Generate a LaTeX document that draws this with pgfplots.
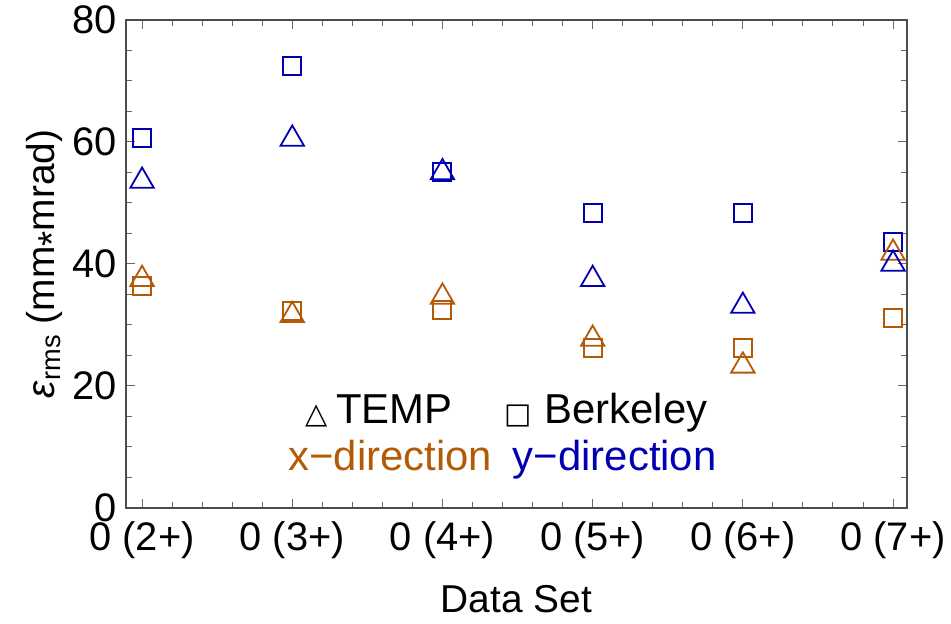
\documentclass[border=0pt]{standalone}
\usepackage{fontspec}
\setmainfont{Liberation Sans}
\newfontfamily\dejavu{DejaVu Sans}
\usepackage{pgfplots}
\pgfplotsset{compat=1.18}
\definecolor{cx}{RGB}{180,90,6}
\definecolor{cy}{RGB}{0,0,178}

\pgfplotstableread{
x xT xB yT yB
0 37.5 36.4 53.6 60.7
1 31.6 32.3 60.5 72.5
2 34.6 32.5 55.0 55.1
3 27.7 26.2 37.5 48.3
4 23.3 26.2 33.1 48.3
5 41.8 31.1 40.0 43.6
}\datatable

\begin{document}
\begin{tikzpicture}
\begin{axis}[
  scale only axis, width=781bp, height=488bp,
  xmin=-0.107, xmax=5.093, ymin=0, ymax=80,
  xtick={0,1,2,3,4,5},
  xticklabels={0 (2+),0 (3+),0 (4+),0 (5+),0 (6+),0 (7+)},
  ytick={0,20,40,60,80},
  minor x tick num=4, minor y tick num=3,
  tick align=inside,
  major tick length=9bp, minor tick length=6bp,
  every tick/.style={black!60, line width=1bp},
  axis line style={black!70, line width=1.2bp},
  tick label style={font=\fontsize{40}{46}\selectfont},
  xticklabel style={yshift=-10bp},
  yticklabel style={xshift=-6bp},
  /pgf/number format/assume math mode=true,
  xlabel={Data Set},
  ylabel={\textit{ε}\textsubscript{rms} (mm\raisebox{-0.28em}{*}mrad)},
  label style={font=\fontsize{39}{46}\selectfont},
  xlabel style={yshift=-20bp},
  clip=false,
]
\addplot[only marks, mark=square, mark size=9bp, draw=cx, line width=2bp] table[x=x, y=xB] {\datatable};
\addplot[only marks, mark=square, mark size=9bp, draw=cy, line width=2bp] table[x=x, y=yB] {\datatable};
\addplot[only marks, mark=triangle, mark size=13.5bp, draw=cx, line width=1.8bp] table[x=x, y=xT] {\datatable};
\addplot[only marks, mark=triangle, mark size=13.5bp, draw=cy, line width=1.8bp] table[x=x, y=yT] {\datatable};

\node[anchor=base, font=\fontsize{42}{48}\selectfont] at (axis cs:2.427,13.8)
  {{\dejavu\fontsize{29}{32}\selectfont △}\hspace{0.2em}TEMP\hspace{1.25em}{\dejavu\fontsize{29}{32}\selectfont □}\hspace{0.3em}Berkeley};
\node[anchor=base, font=\fontsize{42}{48}\selectfont] at (axis cs:2.40,6.2)
  {\textcolor{cx}{x−direction}\hspace{0.5em}\textcolor{cy}{y−direction}};
\end{axis}
\path (current axis.south west) ++(-126bp,-116bp);
\path (current axis.north east) ++(44bp,20bp);
\end{tikzpicture}
\end{document}
